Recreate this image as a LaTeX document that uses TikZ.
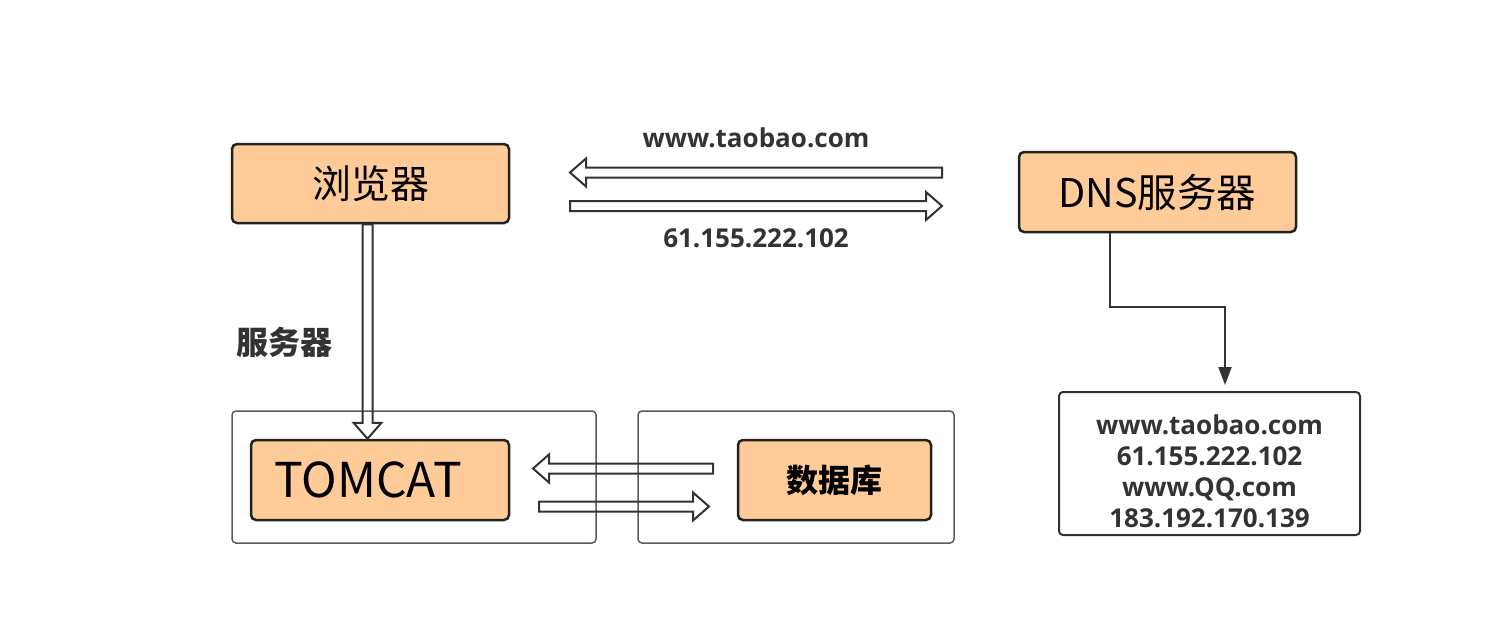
\documentclass[tikz,border=0pt]{standalone}
\usepackage{fontspec}
\setmainfont{Open Sans}
\newfontfamily\cjk{Noto Sans CJK SC}
\usetikzlibrary{calc,arrows.meta}
\definecolor{peach}{HTML}{FFCC99}
\definecolor{ink}{HTML}{333333}
\definecolor{edge}{HTML}{222222}
\definecolor{frame}{HTML}{5A5A5A}
\tikzset{
  box/.style={draw=edge,line width=2.5pt,fill=peach,rounded corners=5pt,inner sep=0pt},
  frm/.style={draw=frame,line width=1.5pt,rounded corners=4pt,inner sep=0pt},
  resbox/.style={draw=ink,line width=2pt,rounded corners=4pt,inner sep=0pt},
  hollow/.style={draw=ink,line width=2pt,line join=miter},
  conn/.style={draw=ink,line width=2pt,-{Triangle[length=18pt,width=13pt]},shorten >=6pt},
  lbl/.style={text=ink,font=\bfseries\fontsize{26}{31}\selectfont,inner sep=0pt,align=center},
  cjklbl/.style={text=ink,font=\cjk\bfseries\fontsize{32}{34}\selectfont,inner sep=0pt},
}
\newcommand\hollowarrow[2]{%
  \coordinate (hb) at ($(#2)!16pt!(#1)$);
  \draw[hollow] ($(#1)!5pt!90:(#2)$) -- ($(hb)!5pt!90:(#2)$) -- ($(hb)!14pt!90:(#2)$)
    -- (#2) -- ($(hb)!14pt!-90:(#2)$) -- ($(hb)!5pt!-90:(#2)$) -- ($(#1)!5pt!-90:(#2)$) -- cycle;}
\begin{document}
\begin{tikzpicture}[x=1pt,y=-1pt]
\useasboundingbox (0,0) rectangle (1486,634);
% frames
\node[frm,minimum width=364pt,minimum height=132pt] (outerL) at (414,477) {};
\node[frm,minimum width=316pt,minimum height=132pt] (outerR) at (796,477) {};
% main boxes
\node[box,minimum width=277pt,minimum height=79pt,font=\cjk\fontsize{39}{41}\selectfont] (browser) at (370.5,183.5) {浏览器};
\node[box,minimum width=277pt,minimum height=80pt,font=\cjk\fontsize{39.5}{41}\selectfont] (dns) at (1157.5,192) {DNS服务器};
\node[box,minimum width=258pt,minimum height=80pt] (tomcat) at (380,480) {};
\node[font=\cjk\fontsize{48}{50}\selectfont,inner sep=0pt] (tomcattxt) at (368,480) {TOMCAT};
\node[box,minimum width=193pt,minimum height=80pt,font=\cjk\bfseries\fontsize{32}{34}\selectfont] (db) at (834.5,480) {数据库};
\node[resbox,minimum width=301pt,minimum height=143pt] (result) at (1209.5,463.5) {};
\node[lbl] (restxt) at (1209.5,471) {www.taobao.com\\61.155.222.102\\www.QQ.com\\183.192.170.139};
% labels
\node[lbl] (qlbl) at (756,138) {www.taobao.com};
\node[lbl] (albl) at (756,238) {61.155.222.102};
\node[cjklbl] (slbl) at (284,342) {服务器};
% hollow arrows
\coordinate (t1tail) at (942,172.5);
\coordinate (t1tip) at (570,172.5);
\coordinate (t2tail) at (570,206);
\coordinate (t2tip) at (942,206);
\hollowarrow{t1tail}{t1tip}
\hollowarrow{t2tail}{t2tip}
\coordinate (vtail) at ([xshift=-3pt]browser.south);
\coordinate (vtip) at ([xshift=-12.5pt]tomcat.north);
\hollowarrow{vtail}{vtip}
\coordinate (b1tail) at (713,468.5);
\coordinate (b1tip) at (533,468.5);
\coordinate (b2tail) at (539,506.5);
\coordinate (b2tip) at (709,506.5);
\hollowarrow{b1tail}{b1tip}
\hollowarrow{b2tail}{b2tip}
% dns connector
\coordinate (bend) at (1225,307);
\draw[conn] ([xshift=-47.5pt]dns.south) |- (bend) -- ([xshift=15.5pt]result.north);
\end{tikzpicture}
\end{document}
